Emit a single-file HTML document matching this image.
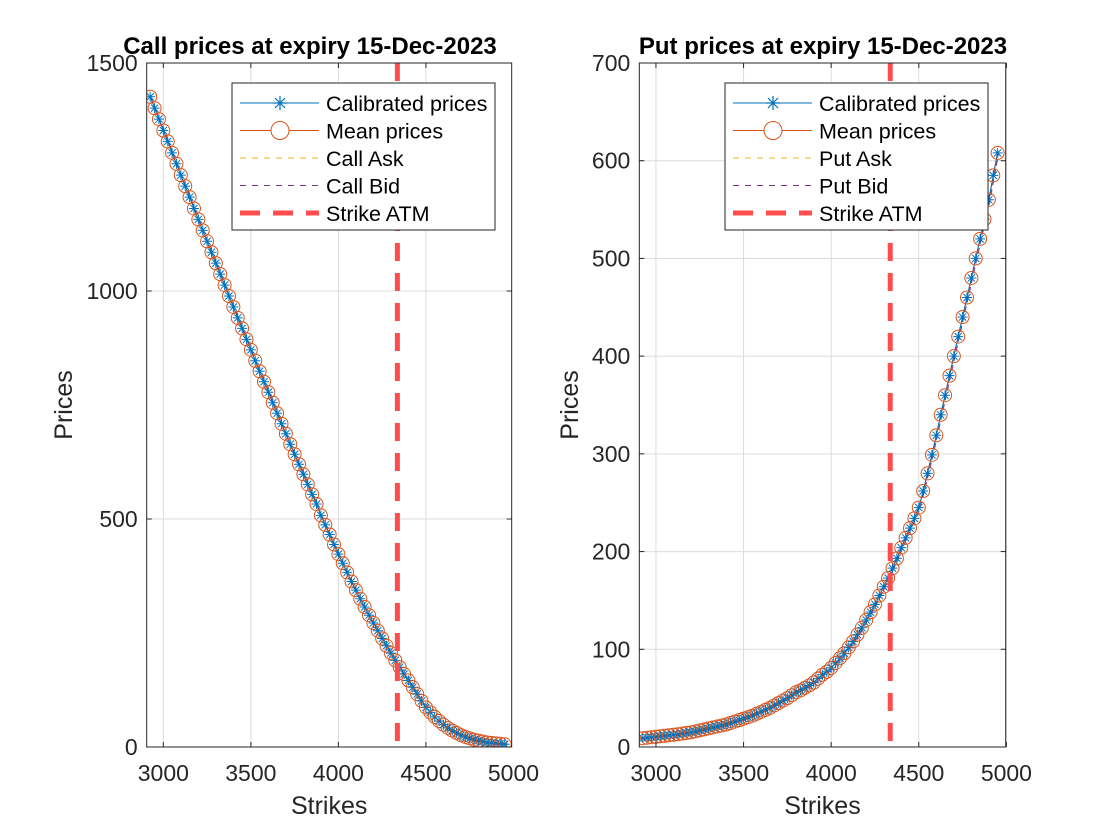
<!DOCTYPE html>
<html><head><meta charset="utf-8">
<style>
html,body{margin:0;padding:0;background:#fff;}
svg{display:block;font-family:"Liberation Sans",Arial,sans-serif;}
</style></head>
<body>
<svg id="fig" width="1120" height="840" viewBox="0 0 1120 840">
<rect width="1120" height="840" fill="#fff"/>
</svg>
<script>
const strikes = [2925,2950,2975,3000,3025,3050,3075,3100,3125,3150,3175,3200,3225,3250,3275,3300,3325,3350,3375,3400,3425,3450,3475,3500,3525,3550,3575,3600,3625,3650,3675,3700,3725,3750,3775,3800,3825,3850,3875,3900,3925,3950,3975,4000,4025,4050,4075,4100,4125,4150,4175,4200,4225,4250,4275,4300,4325,4350,4375,4400,4425,4450,4475,4500,4525,4550,4575,4600,4625,4650,4675,4700,4725,4750,4775,4800,4825,4850,4875,4900,4925,4950];
const callPrices = [1426,1401,1377,1352,1328,1303,1279,1254,1230,1206,1181,1157,1133,1109,1085,1061,1037,1013,989,965,941,918,894,871,847,824,801,778,755,732,709,687,664,642,620,598,576,554,533,508,487,466,444,423,403,383,363,344,325,307,289,272,255,238,222,206,190,175,160,146,131,116,101,87,76,66,57,49,42,36,31,26,22,19,16,14,12,10,9,8,7,6];
const putPrices = [9,9.5,10,10.5,11,11.5,12,12.5,13,13.7,14.4,15,16,17,18,19,20,21,22,23,24.5,26,27.5,29,30.5,32,34,36,38,40,42.5,45,47.5,50,53,56,58,60.5,63,66,70,74,77,81,86,91,96,102,108,115,122,130,138,146,155,164,173,183,193,204,214,224,234,245,262,280,299,319,340,360,380,400,420,440,460,480,500,520,540,560,585,608];
const atmStrike = [4337];
const callYTicks = [0,500,1000,1500];
const putYTicks = [0,100,200,300,400,500,600,700];
const xTicks = [3000,3500,4000,4500,5000];

const NS="http://www.w3.org/2000/svg";
const fig=document.getElementById('fig');
function mk(tag,attrs,parent){const e=document.createElementNS(NS,tag);for(const k in attrs)e.setAttribute(k,attrs[k]);(parent||fig).appendChild(e);return e;}

function panel(opt){
  const L=opt.left,R=opt.right,T=63,B=747;
  const xmin=2905,xmax=opt.xmax,ymin=0,ymax=opt.ymax;
  const sx=v=>L+(v-xmin)/(xmax-xmin)*(R-L);
  const sy=v=>B-(v-ymin)/(ymax-ymin)*(B-T);
  const g=mk('g',{});
  
  
  const clipId=opt.name+'-clip';
  const cp=mk('clipPath',{id:clipId},g);mk('rect',{x:L,y:T,width:R-L,height:B-T},cp);
  xTicks.forEach(t=>{const x=sx(t);if(x<L||x>R+1)return;
    const l=mk('line',{x1:x,x2:x,y1:T,y2:B,stroke:'#dcdcdc','stroke-width':1},g);
    
    });
  opt.yTicks.forEach(t=>{const y=sy(t);
    const l=mk('line',{x1:L,x2:R,y1:y,y2:y,stroke:'#dcdcdc','stroke-width':1},g);
    
    });
  const pg=mk('g',{'clip-path':'url(#'+clipId+')'},g);
  const pts=opt.data.map((v,i)=>sx(strikes[i]).toFixed(1)+','+sy(v).toFixed(1)).join(' ');
  const ask=mk('polyline',{points:pts,fill:'none',stroke:'#EDB120','stroke-width':1,'stroke-dasharray':'6,4'},pg);
  
  
  const bid=mk('polyline',{points:pts,fill:'none',stroke:'#7E2F8E','stroke-width':1,'stroke-dasharray':'6,4',transform:'translate(1,1)'},pg);
  
  
  const ml=mk('polyline',{points:pts,fill:'none',stroke:'#D95319','stroke-width':1},pg);
  
  
  const cl=mk('polyline',{points:pts,fill:'none',stroke:'#0072BD','stroke-width':1},pg);
  
  
  opt.data.forEach((v,i)=>{const x=sx(strikes[i]),y=sy(v);
    const c=mk('circle',{cx:x,cy:y,r:6.5,fill:'none',stroke:'#D95319','stroke-width':1},pg);
    
    
    const s=mk('path',{d:`M${x-5},${y}H${x+5}M${x},${y-5}V${y+5}M${x-3.6},${y-3.6}L${x+3.6},${y+3.6}M${x-3.6},${y+3.6}L${x+3.6},${y-3.6}`,stroke:'#0072BD','stroke-width':1,fill:'none'},pg);
    
    
  });
  const ax=sx(atmStrike[0]);
  const atm=mk('line',{x1:ax,x2:ax,y1:T,y2:B,stroke:'#FF4D4D','stroke-width':5,'stroke-dasharray':'18,12'},pg);
  
  
  const box=mk('rect',{x:L,y:T,width:R-L,height:B-T,fill:'none',stroke:'#262626','stroke-width':1},g);
  
  
  xTicks.forEach(t=>{const x=sx(t);
    if(x<=R+1){mk('line',{x1:x,x2:x,y1:B,y2:B-5,stroke:'#262626'},g);mk('line',{x1:x,x2:x,y1:T,y2:T+5,stroke:'#262626'},g);}
    const tx=mk('text',{x:x,y:781,'font-size':23,fill:'#262626','text-anchor':'middle'},g);tx.textContent=t;
    
    });
  opt.yTicks.forEach(t=>{const y=sy(t);
    mk('line',{x1:L,x2:L+5,y1:y,y2:y,stroke:'#262626'},g);mk('line',{x1:R,x2:R-5,y1:y,y2:y,stroke:'#262626'},g);
    const tx=mk('text',{x:L-9,y:y+8,'font-size':23,fill:'#262626','text-anchor':'end'},g);tx.textContent=t;
    
    });
  const xl=mk('text',{x:(L+R)/2,y:814,'font-size':25,fill:'#262626','text-anchor':'middle'},g);xl.textContent='Strikes';
  
  
  const yx=opt.ylabX;
  const yl=mk('text',{x:yx,y:(T+B)/2,'font-size':25,fill:'#262626','text-anchor':'middle',transform:`rotate(-90 ${yx} ${(T+B)/2})`},g);yl.textContent='Prices';
  
  
  const ti=mk('text',{x:opt.titleX,y:54,'font-size':24,'font-weight':'bold',fill:'#000','text-anchor':'middle'},g);ti.textContent=opt.title;
  
  
  const lx=opt.legX,ly=83;
  const lg=mk('g',{},g);
  
  
  mk('rect',{x:lx,y:ly,width:263,height:147,fill:'#fff',stroke:'#262626','stroke-width':1},lg);
  const items=[['Calibrated prices','#0072BD','none',1,'star'],['Mean prices','#D95319','none',1,'circle'],[opt.kind+' Ask','#EDB120','6,6',1,''],[opt.kind+' Bid','#7E2F8E','6,6',1,''],['Strike ATM','#FF4D4D','20,13',5,'']];
  items.forEach((it,i)=>{const y=ly+20+i*27.5;
    const eg=mk('g',{},lg);
    
    
    mk('line',{x1:lx+8,x2:lx+87,y1:y,y2:y,stroke:it[1],'stroke-width':it[3],'stroke-dasharray':it[2]},eg);
    const cx=lx+48;
    if(it[4]==='circle')mk('circle',{cx:cx,cy:y,r:9,fill:'#fff',stroke:it[1],'stroke-width':1},eg);
    if(it[4]==='star')mk('path',{d:`M${cx-7},${y}H${cx+7}M${cx},${y-7}V${y+7}M${cx-5},${y-5}L${cx+5},${y+5}M${cx-5},${y+5}L${cx+5},${y-5}`,stroke:it[1],'stroke-width':1.2},eg);
    const t=mk('text',{x:lx+94,y:y+8,'font-size':21.5,fill:'#000'},eg);t.textContent=it[0];
  });
}
panel({name:'call-chart',left:146.7,right:511.7,xmax:4990,ymax:1500,yTicks:callYTicks,data:callPrices,title:'Call prices at expiry 15-Dec-2023',kind:'Call',legX:232,ylabX:72,titleX:310});
panel({name:'put-chart',left:639.3,right:1005.7,xmax:4996,ymax:700,yTicks:putYTicks,data:putPrices,title:'Put prices at expiry 15-Dec-2023',kind:'Put',legX:725,ylabX:578,titleX:823});
</script>
</body></html>
